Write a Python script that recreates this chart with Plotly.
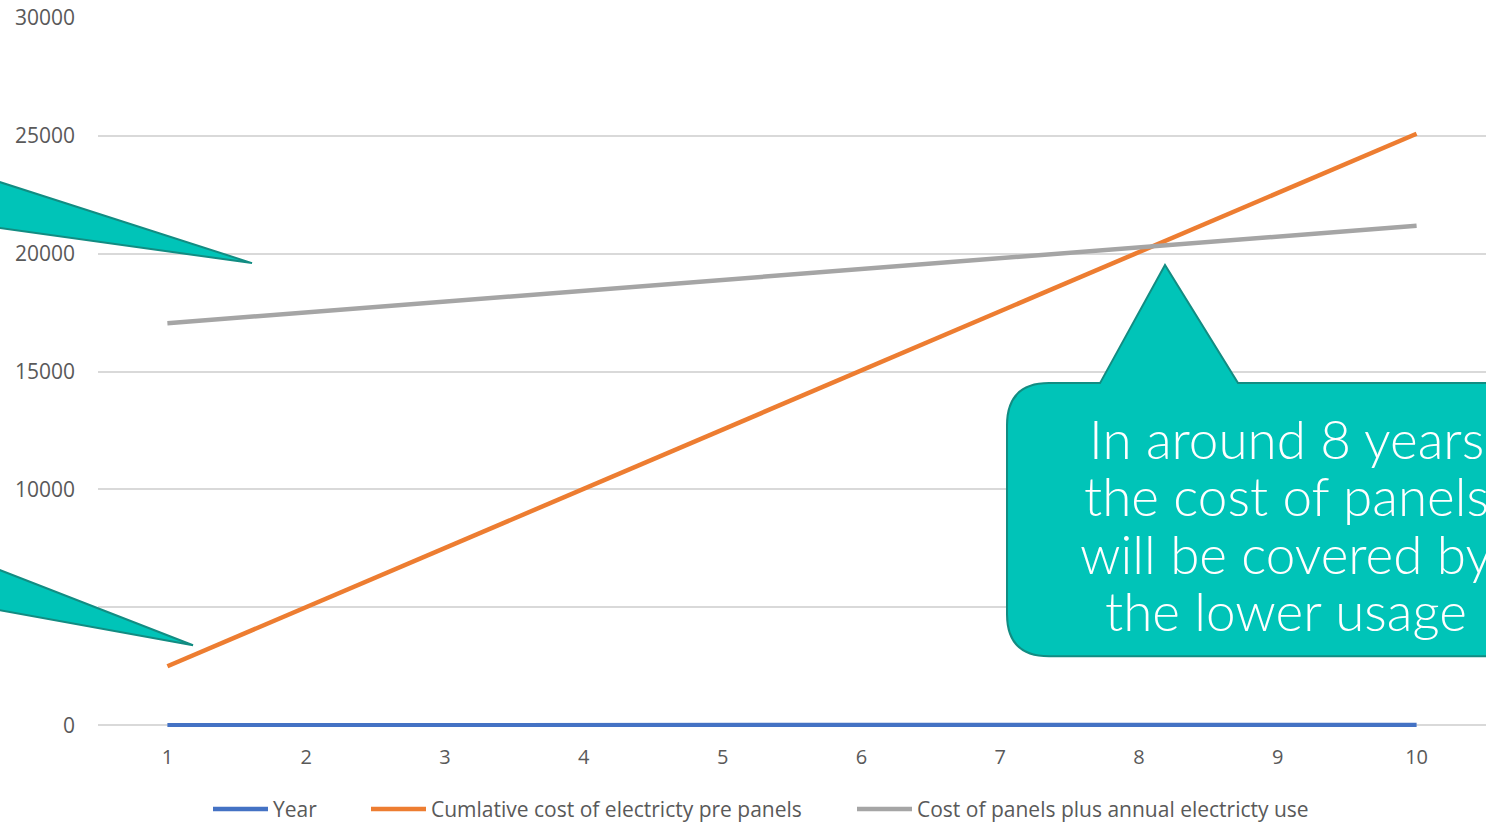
import plotly.graph_objects as go

# ---- data ----
years = [1, 2, 3, 4, 5, 6, 7, 8, 9, 10]
year_series = [1, 2, 3, 4, 5, 6, 7, 8, 9, 10]
cumulative_pre = [2500, 5010, 7520, 10030, 12540, 15050, 17560, 20070, 22580, 25090]
panels_plus_use = [17050, 17510, 17970, 18430, 18890, 19350, 19810, 20270, 20730, 21190]
series_names = ["Year", "Cumlative cost of electricty pre panels",
                "Cost of panels plus annual electricty use"]
y_ticks = [0, 5000, 10000, 15000, 20000, 25000, 30000]
y_tick_labels = ["0", "5000", "10000", "15000", "20000", "25000", "30000"]
callout_lines = ["In around 8 years", "the cost of panels",
                 "will be covered by", "the lower usage"]

W, H = 1486, 825
Y_LOW = -75
ZERO_PX, TOP_PX = 725, 18
PX_PER_UNIT = (ZERO_PX - TOP_PX) / 30000
BOTTOM_PX = ZERO_PX - Y_LOW * PX_PER_UNIT
L, R, T, B = 98, 0, TOP_PX, H - BOTTOM_PX
PW, PH = W - L - R, H - T - B


def px(x):
    return (x - L) / PW


def py(y):
    return (H - B - y) / PH


def path(points, close=True):
    s = ""
    for i, p in enumerate(points):
        if p[0] == "Q":
            s += f" Q{px(p[1]):.5f},{py(p[2]):.5f} {px(p[3]):.5f},{py(p[4]):.5f}"
        else:
            s += (" M" if i == 0 else " L") + f"{px(p[0]):.5f},{py(p[1]):.5f}"
    return s + (" Z" if close else "")


fig = go.Figure()
colors = ["#4472C4", "#ED7D31", "#A5A5A5"]
legend_ids = ["legend", "legend2", "legend3"]
for name, vals, c, lg in zip(series_names, [year_series, cumulative_pre, panels_plus_use],
                             colors, legend_ids):
    fig.add_trace(go.Scatter(x=years, y=vals, name=name, mode="lines", legend=lg,
                             line=dict(color=c, width=4.5)))

fill = "#00C4B8"
edge = "#128C82"
shapes = []
shapes.append(dict(type="path", xref="paper", yref="paper",
                   path=path([(-20, 175.6), (252, 263), (-20, 225.2)]),
                   fillcolor=fill, line=dict(color=edge, width=2)))
shapes.append(dict(type="path", xref="paper", yref="paper",
                   path=path([(-20, 562.2), (193, 645), (-20, 606.4)]),
                   fillcolor=fill, line=dict(color=edge, width=2)))
r = 42
x0, x1, y0, y1 = 1007, 1620, 383, 656
pts = [(x0 + r, y0), (1100, y0), (1165, 265), (1238, y0), (x1, y0), (x1, y1),
       (x0 + r, y1), ("Q", x0, y1, x0, y1 - r), (x0, y0 + r), ("Q", x0, y0, x0 + r, y0)]
shapes.append(dict(type="path", xref="paper", yref="paper", path=path(pts),
                   fillcolor=fill, line=dict(color=edge, width=2)))

annotations = []
baselines = [455, 512, 570, 627]
for line, bl in zip(callout_lines, baselines):
    annotations.append(dict(xref="paper", yref="paper", x=px(1286), y=py(bl - 17),
                            text=line, showarrow=False, xanchor="center", yanchor="middle",
                            font=dict(family="Lato", size=53, color="white", weight=300)))

legend_font = dict(family="Open Sans", size=21, color="#595959")
legend_starts = [214, 372, 858]
legend_cfg = {}
for lg, xs in zip(legend_ids, legend_starts):
    legend_cfg[lg] = dict(orientation="h", x=px(xs - 6), xanchor="left", y=py(809),
                          yanchor="middle", font=legend_font, itemwidth=55,
                          bgcolor="rgba(0,0,0,0)")

fig.update_layout(
    width=W, height=H,
    margin=dict(l=L, r=R, t=T, b=B, autoexpand=False),
    plot_bgcolor="white", paper_bgcolor="white",
    shapes=shapes, annotations=annotations,
    showlegend=True,
    xaxis=dict(range=[0.5, 10.5], tickvals=years, showgrid=False, zeroline=False,
               showline=False, ticks="", ticklabelstandoff=16,
               tickfont=dict(family="Open Sans", size=20, color="#595959")),
    yaxis=dict(range=[Y_LOW, 30000], tickvals=y_ticks, ticktext=y_tick_labels,
               showgrid=True, gridcolor="#D9D9D9",
               gridwidth=1.5, zeroline=False, showline=False, ticks="",
               ticklabelstandoff=22,
               tickfont=dict(family="Open Sans", size=21, color="#595959")),
    **legend_cfg,
)

fig.write_html("out.html", config={"displayModeBar": False},
               post_script="document.body.style.margin='0';document.body.style.overflow='hidden';")
